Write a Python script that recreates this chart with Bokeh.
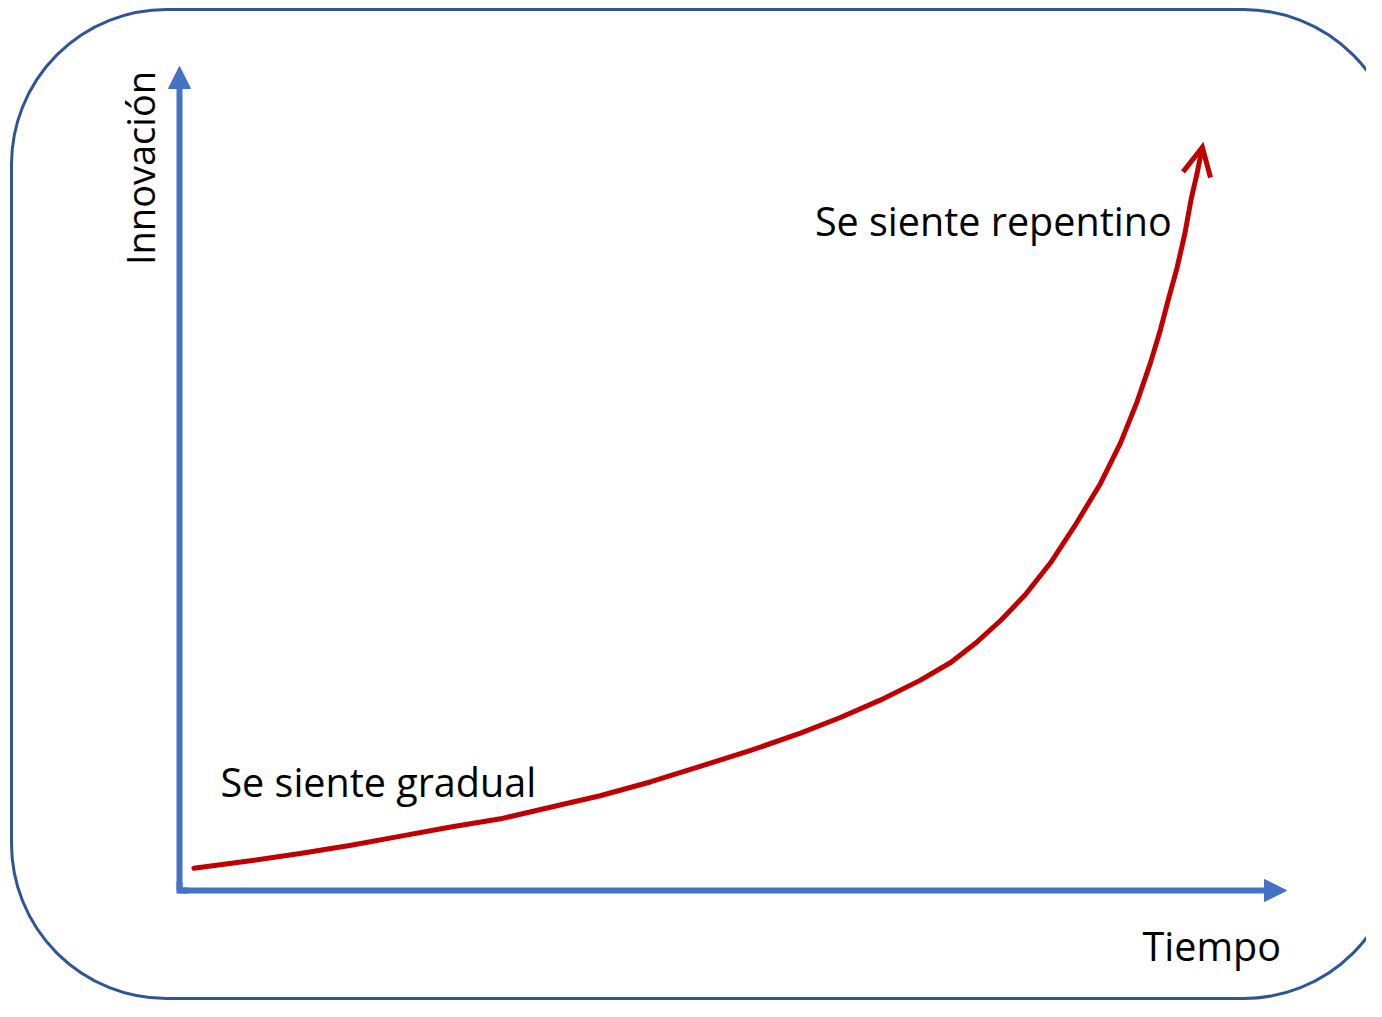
import numpy as np
from bokeh.plotting import figure
from bokeh.models import Range1d, Arrow, NormalHead, OpenHead, BoxAnnotation
from bokeh.core.properties import value
from bokeh.embed import file_html
from bokeh.resources import INLINE

# ---- data (conceptual units: 0..100 on each axis) ----
tiempo = [1.3, 6.4, 10.9, 15.5, 20.0, 24.5, 29.0, 33.5, 38.0, 42.6,
          47.1, 51.6, 56.1, 59.7, 63.3, 66.9, 69.7, 71.9, 74.2, 76.4,
          78.7, 80.9, 83.2, 85.0, 86.5, 87.7, 88.6, 89.3, 90.1, 90.8,
          91.4, 91.9, 92.4]
innovacion = [2.7, 3.6, 4.5, 5.5, 6.6, 7.7, 8.7, 10.1, 11.5, 13.2,
              15.1, 17.0, 19.1, 21.0, 23.1, 25.5, 27.7, 30.0, 32.8, 35.9,
              39.8, 44.3, 49.4, 54.3, 59.3, 64.0, 68.0, 71.6, 75.5, 79.6,
              84.0, 86.9, 90.2]

axis_max = 100
label_texts = ["Se siente gradual", "Se siente repentino"]
label_t = [3.7, 57.4]
label_v = [13.2, 81.3]
x_title = "Tiempo"
y_title = "Innovación"

# ---- layout (canvas pixels -> data units) ----
W, H = 1366, 1001
PX0, PX100 = 179, 1286
PY0, PY100 = 890, 66
sx = (PX100 - PX0) / 100.0
sy = (PY0 - PY100) / 100.0


def tx(px):
    return (px - PX0) / sx


def ty(py):
    return (PY0 - py) / sy


BLUE = "#4472C4"
RED = "#C00000"
BORDER = "#2F5597"
FONT = value("Open Sans")

p = figure(width=W, height=H,
           x_range=Range1d(tx(0), tx(W)),
           y_range=Range1d(ty(H), ty(0)),
           output_backend="svg", toolbar_location=None,
           x_axis_location=None, y_axis_location=None,
           min_border=0)
p.grid.visible = False
p.outline_line_color = None
p.background_fill_color = "white"
p.border_fill_color = "white"

# rounded frame
p.add_layout(BoxAnnotation(left=tx(11), right=tx(1398), top=ty(9), bottom=ty(998),
                           border_radius=155, fill_color=None, fill_alpha=0,
                           line_color=BORDER, line_width=3, line_alpha=1,
                           level="underlay"))

# axes with arrow heads
p.add_layout(Arrow(end=NormalHead(size=22, fill_color=BLUE, line_color=BLUE, line_width=1),
                   x_start=0, y_start=0, x_end=0, y_end=axis_max,
                   line_color=BLUE, line_width=6))
p.add_layout(Arrow(end=NormalHead(size=22, fill_color=BLUE, line_color=BLUE, line_width=1),
                   x_start=0, y_start=0, x_end=axis_max, y_end=0,
                   line_color=BLUE, line_width=6))
# square corner where the two axes meet
p.line([0, 0, axis_max * 0.008], [axis_max * 0.01, 0, 0], line_color=BLUE,
       line_width=6, line_join="miter")

# red exponential curve with open arrow head
p.line(tiempo[:-1], innovacion[:-1], line_color=RED, line_width=5,
       line_cap="round", line_join="round")
p.add_layout(Arrow(end=OpenHead(size=28, line_color=RED, line_width=5, line_join="miter"),
                   x_start=tiempo[-2], y_start=innovacion[-2],
                   x_end=tiempo[-1], y_end=innovacion[-1],
                   line_color=RED, line_width=5))

# labels
p.text(x=label_t, y=label_v, text=label_texts, text_font=FONT,
       text_font_size="39.5px", text_color="#000000",
       text_baseline="alphabetic", text_align="left")
p.text(x=[87.0], y=[-6.7], text=[x_title], text_font=FONT,
       text_font_size="39.5px", text_color="#000000",
       text_baseline="alphabetic", text_align="left")
p.text(x=[-3.6], y=[75.9], text=[y_title], text_font=FONT,
       text_font_size="38px", text_color="#000000", angle=np.pi / 2,
       text_baseline="alphabetic", text_align="left")

open("out.html", "w").write(file_html(p, INLINE))
